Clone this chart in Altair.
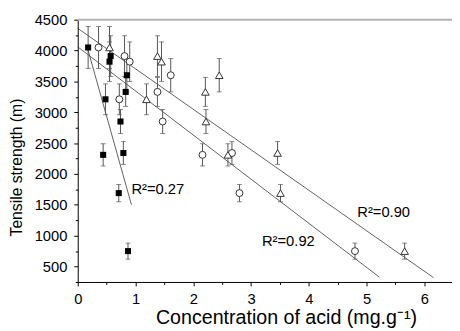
import altair as alt
import pandas as pd

# ---- data ----
strength = [4050, 3910, 3820, 3600, 3330, 3210, 2850, 2340, 2310, 1690, 750]
err = [340, 330, 320, 270, 235, 250, 195, 185, 180, 140, 130]
x_square = [0.18, 0.57, 0.55, 0.85, 0.83, 0.48, 0.74, 0.79, 0.44, 0.71, 0.87]
x_circle = [0.36, 0.81, 0.90, 1.61, 1.38, 0.72, 1.47, 2.67, 2.16, 2.80, 4.80]
x_triangle = [0.55, 1.38, 1.45, 2.45, 2.21, 1.19, 2.22, 3.46, 2.60, 3.51, 5.66]

fit_series = ["square", "square", "circle", "circle", "triangle", "triangle"]
fit_x = [0.16, 0.93, 0.0, 5.22, 0.0, 6.16]
fit_y = [4070, 1500, 4060, 330, 4360, 320]

label_text = ["R²=0.27", "R²=0.92", "R²=0.90"]
label_x = [0.93, 3.19, 4.84]
label_y = [1750, 913, 1376]

x_ticks = [i * 0.5 for i in range(13)]
y_ticks = [250 * i for i in range(1, 19)]

# ---- tables ----
def series_df(xs, name):
    return pd.DataFrame({
        "x": xs, "y": strength,
        "lo": [s - e for s, e in zip(strength, err)],
        "hi": [s + e for s, e in zip(strength, err)],
        "series": name,
    })

sq = series_df(x_square, "square")
ci = series_df(x_circle, "circle")
tr = series_df(x_triangle, "triangle")
allpts = pd.concat([sq, ci, tr], ignore_index=True)
fits = pd.DataFrame({"series": fit_series, "x": fit_x, "y": fit_y})
labels = pd.DataFrame({"t": label_text, "x": label_x, "y": label_y})
top = pd.DataFrame({"y": [4500]})

FONT = "Liberation Sans"
xs = alt.Scale(domain=[0, 6.48], nice=False, zero=False)
ys = alt.Scale(domain=[250, 4500], nice=False, zero=False)

xaxis = alt.Axis(
    values=x_ticks,
    labelExpr="datum.value % 1 === 0 ? format(datum.value, 'd') : ''",
    tickSize={"condition": {"test": "datum.value % 1 !== 0", "value": 2.5}, "value": 4},
    grid=False, domainColor="black", tickColor="black", labelColor="black",
    labelFont=FONT, labelFontSize=15, labelPadding=6, labelFlush=False, labelOverlap=False,
    titleFont=FONT, titleFontSize=20, titleFontWeight="normal", titleColor="black",
    titleX=212, titleY=42, titleBaseline="alphabetic",
)
yaxis = alt.Axis(
    values=y_ticks,
    labelExpr="datum.value % 500 === 0 ? format(datum.value, 'd') : ''",
    tickSize={"condition": {"test": "datum.value % 500 !== 0", "value": 2.5}, "value": 4},
    grid=False, domainColor="black", tickColor="black", labelColor="black",
    labelFont=FONT, labelFontSize=15, labelPadding=7, labelFlush=False, labelOverlap=False,
    titleFont=FONT, titleFontSize=16, titleFontWeight="normal", titleColor="black",
    titleX=-57, titleY=150, titleBaseline="alphabetic",
)
XT = "Concentration of acid  (mg.g⁻¹)"
YT = "Tensile strength (m)"

def X(f="x"):
    return alt.X(f"{f}:Q", scale=xs, axis=xaxis, title=XT)

def Y(f="y"):
    return alt.Y(f"{f}:Q", scale=ys, axis=yaxis, title=YT)

top_line = alt.Chart(top).mark_rule(color="#b4b4b4", strokeWidth=2).encode(y=Y())

fit_lines = alt.Chart(fits).mark_line(color="#3a3a3a", strokeWidth=0.8).encode(
    x=X(), y=Y(), detail="series:N")

bars = alt.Chart(allpts).mark_rule(color="#555555", strokeWidth=1).encode(
    x=X(), y=Y("lo"), y2="hi:Q")
cap_lo = alt.Chart(allpts).mark_tick(orient="horizontal", size=5, thickness=1, color="#555555").encode(
    x=X(), y=Y("lo"))
cap_hi = alt.Chart(allpts).mark_tick(orient="horizontal", size=5, thickness=1, color="#555555").encode(
    x=X(), y=Y("hi"))

squares = alt.Chart(sq).mark_point(shape="square", filled=True, size=38, color="black", opacity=1).encode(
    x=X(), y=Y())
circles = alt.Chart(ci).mark_point(shape="circle", filled=True, fill="white", stroke="#333333",
                                   strokeWidth=1, size=50, opacity=1).encode(x=X(), y=Y())
triangles = alt.Chart(tr).mark_point(shape="triangle-up", filled=True, fill="white", stroke="#333333",
                                     strokeWidth=1, size=60, opacity=1).encode(x=X(), y=Y())

texts = alt.Chart(labels).mark_text(align="left", baseline="middle", font=FONT, fontSize=15,
                                    color="black").encode(x=X(), y=Y(), text="t:N")

chart = alt.layer(top_line, fit_lines, bars, cap_lo, cap_hi, circles, triangles, squares, texts).properties(
    width=381, height=267,
    padding={"left": 71, "top": 9, "right": 0, "bottom": 47},
    autosize=alt.AutoSizeParams(type="none"),
).configure_view(stroke=None)

chart.save("out.html", embed_options={"renderer": "svg", "actions": False})
